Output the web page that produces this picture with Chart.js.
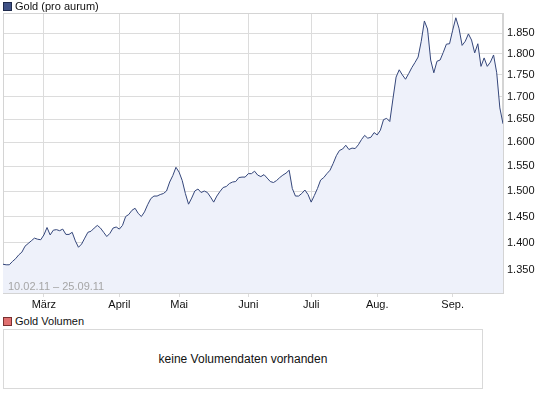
<!DOCTYPE html>
<html>
<head>
<meta charset="utf-8">
<title>Gold (pro aurum)</title>
<script src="https://cdn.jsdelivr.net/npm/chart.js@4.4.1/dist/chart.umd.min.js"></script>
<style>
    body { margin: 0; background: #fff; }
    #wrap { position: relative; width: 545px; height: 398px; font-family: 'Liberation Sans', Arial, sans-serif; color: #111; }
    #goldChart { position: absolute; left: 0; top: 0; }
    .legend { position: absolute; left: 3px; font-size: 11px; line-height: 13px; white-space: nowrap; }
    .legend .box { display: inline-block; width: 7px; height: 7px; margin-right: 3px; vertical-align: -1px; }
    .range { position: absolute; left: 8px; top: 280px; font-size: 11px; line-height: 13px; color: #a6a6a6; }
    .volume { position: absolute; left: 3px; top: 329px; width: 478px; height: 58px; border: 1px solid #d9d9d9;
              font-size: 12px; line-height: 58px; text-align: center; }
</style>
</head>
<body>
<div id="wrap">
    <canvas id="goldChart" width="545" height="315"></canvas>
    <div class="legend" style="top:0px"><span class="box" style="background:#3f5185;border:1px solid #1e2a4c"></span>Gold (pro aurum)</div>
    <div class="range">10.02.11 – 25.09.11</div>
    <div class="legend" style="top:315px"><span class="box" style="background:#e07070;border:1px solid #7a3030"></span>Gold Volumen</div>
    <div class="volume">keine Volumendaten vorhanden</div>
</div>
<script>
// daily gold price (USD/oz), one value per trading day 10.02.11 - 23.09.11
const prices = [
    1361, 1360, 1360, 1366, 1371, 1378, 1383, 1394, 1399, 1404,
    1409, 1407, 1406, 1415, 1429, 1415, 1424, 1425, 1423, 1426,
    1416, 1416, 1420, 1404, 1392, 1398, 1409, 1420, 1422, 1428,
    1433, 1428, 1420, 1412, 1418, 1428, 1430, 1426, 1433, 1450,
    1454, 1462, 1466, 1456, 1450, 1459, 1473, 1485, 1490, 1490,
    1493, 1495, 1500, 1518, 1531, 1548, 1538, 1521, 1495, 1474,
    1486, 1500, 1504, 1497, 1500, 1497, 1488, 1478, 1490, 1499,
    1507, 1509, 1515, 1518, 1519, 1527, 1528, 1528, 1535, 1535,
    1540, 1532, 1529, 1533, 1526, 1519, 1517, 1521, 1527, 1532,
    1536, 1542, 1505, 1490, 1490, 1495, 1502, 1493, 1478, 1491,
    1505, 1522, 1527, 1535, 1542, 1556, 1572, 1583, 1586, 1594,
    1585, 1588, 1587, 1595, 1606, 1615, 1609, 1611, 1621, 1616,
    1626, 1649, 1652, 1645, 1695, 1745, 1762, 1750, 1740, 1753,
    1767, 1779, 1792, 1830, 1880, 1860, 1785, 1755, 1782, 1785,
    1803, 1823, 1824, 1857, 1888, 1862, 1820, 1830, 1848, 1833,
    1802, 1824, 1770, 1790, 1770, 1780, 1797, 1755, 1675, 1640
];

// first trading day of each month (index into prices) and its label
const monthIdx = [13, 37, 56, 78, 98, 119, 143];
const monthLabels = ['März', 'April', 'Mai', 'Juni', 'Juli', 'Aug.', 'Sep.'];

const yTicks = [1350, 1400, 1450, 1500, 1550, 1600, 1650, 1700, 1750, 1800, 1850];

/**
 * Formats 1850 as "1.850".
 */
function formatDE(v) {
    const s = String(Math.round(v));
    return s.length > 3 ? s.slice(0, -3) + '.' + s.slice(-3) : s;
}

// light frame on top and left of the plot area (right/bottom come from the axes)
const framePlugin = {
    id: 'frame',
    beforeDatasetsDraw(chart) {
        const { ctx, chartArea: a } = chart;
        ctx.save();
        ctx.strokeStyle = '#d4d4d4';
        ctx.lineWidth = 1;
        ctx.strokeRect(a.left + 0.5, a.top + 0.5, a.right - a.left - 1, a.bottom - a.top - 1);
        ctx.restore();
    }
};

const ctx = document.getElementById('goldChart').getContext('2d');

new Chart(ctx, {
    type: 'line',
    data: {
        datasets: [{
            label: 'Gold (pro aurum)',
            data: prices.map((v, i) => ({ x: i, y: v })),
            borderColor: '#34467a',
            borderWidth: 1,
            backgroundColor: '#eef1fa',
            fill: 'start',
            pointRadius: 0,
            tension: 0
        }]
    },
    options: {
        responsive: false,
        animation: false,
        devicePixelRatio: 1,
        layout: { padding: { left: 3, top: 13, right: 0, bottom: 0 } },
        plugins: {
            legend: { display: false },
            tooltip: { enabled: false }
        },
        scales: {
            x: {
                type: 'linear',
                min: 0,
                max: prices.length - 1,
                afterBuildTicks: s => { s.ticks = monthIdx.map(v => ({ value: v })); },
                afterFit: s => { s.height = 22; },
                ticks: {
                    color: '#111',
                    font: { family: "'Liberation Sans', Arial, sans-serif", size: 11 },
                    padding: 1,
                    maxRotation: 0,
                    callback: v => monthLabels[monthIdx.indexOf(v)]
                },
                grid: { color: '#dcdcdc', tickLength: 4 },
                border: { color: '#d4d4d4' }
            },
            y: {
                type: 'logarithmic',
                position: 'right',
                min: 1310,
                max: 1900,
                afterBuildTicks: s => { s.ticks = yTicks.map(v => ({ value: v })); },
                afterFit: s => { s.width = 42; },
                ticks: {
                    color: '#111',
                    font: { family: "'Liberation Sans', Arial, sans-serif", size: 11 },
                    padding: 4,
                    callback: v => formatDE(v)
                },
                grid: { color: '#dcdcdc', drawTicks: false },
                border: { color: '#d4d4d4' }
            }
        }
    },
    plugins: [framePlugin]
});
</script>
</body>
</html>
